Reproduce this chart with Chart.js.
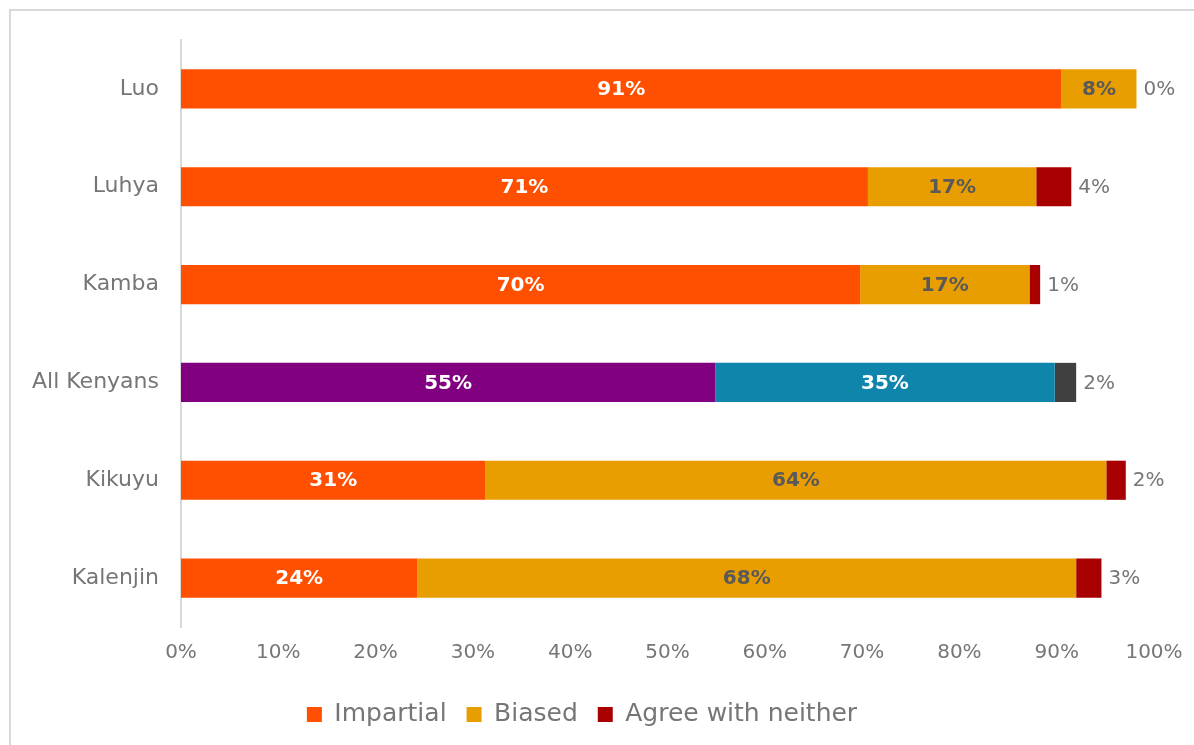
<!DOCTYPE html>
<html>
<head>
<meta charset="utf-8">
<script src="https://cdn.jsdelivr.net/npm/chart.js@4"></script>
<style>
  html, body { margin: 0; padding: 0; background: #fff; overflow: hidden; }
  #wrap { width: 1194px; height: 745px; position: relative; }
</style>
</head>
<body>
<div id="wrap"><canvas id="c" width="1194" height="745"></canvas></div>
<script>
const categories = ['Luo', 'Luhya', 'Kamba', 'All Kenyans', 'Kikuyu', 'Kalenjin'];
const impartial = [90.5, 70.6, 69.8, 54.9, 31.3, 24.3];
const biased = [7.7, 17.3, 17.4, 34.9, 63.8, 67.7];
const neither = [0, 3.6, 1.1, 2.2, 2.0, 2.6];
const seriesNames = ['Impartial', 'Biased', 'Agree with neither'];
const xTicks = [0, 10, 20, 30, 40, 50, 60, 70, 80, 90, 100];

const FONT = "'DejaVu Sans', sans-serif";
const GREY = '#767676';
const highlight = 'All Kenyans';

const baseColors = ['#FE5000', '#E89D00', '#A80000'];
const hiColors = ['#800080', '#1085AC', '#404040'];
function colorsFor(i) {
  return categories.map(c => c === highlight ? hiColors[i] : baseColors[i]);
}

const frame = {
  id: 'frame',
  beforeDraw(chart) {
    const ctx = chart.ctx;
    ctx.save();
    ctx.fillStyle = '#d9d9d9';
    ctx.fillRect(9, 9, 2, 745);
    ctx.fillRect(9, 9, 1194, 2);
    ctx.restore();
  }
};

const labelsPlugin = {
  id: 'valueLabels',
  afterDatasetsDraw(chart) {
    const ctx = chart.ctx;
    ctx.save();
    ctx.textBaseline = 'middle';
    chart.data.datasets.forEach((ds, di) => {
      const meta = chart.getDatasetMeta(di);
      meta.data.forEach((el, i) => {
        const v = ds.data[i];
        const txt = Math.round(v) + '%';
        const isHi = categories[i] === highlight;
        if (di === 2) {
          ctx.font = '20px ' + FONT;
          ctx.fillStyle = GREY;
          ctx.textAlign = 'left';
          ctx.fillText(txt, el.x + 7, el.y + 1);
        } else {
          ctx.font = 'bold 20px ' + FONT;
          ctx.fillStyle = (di === 0 || isHi) ? '#ffffff' : '#595959';
          ctx.textAlign = 'center';
          ctx.fillText(txt, (el.x + el.base) / 2, el.y + 1);
        }
      });
    });
    ctx.restore();
  }
};

const datasets = [impartial, biased, neither].map((d, i) => ({
  label: seriesNames[i],
  data: d,
  backgroundColor: colorsFor(i),
  borderWidth: 0,
  categoryPercentage: 1.0,
  barPercentage: 0.4
}));

new Chart(document.getElementById('c'), {
  type: 'bar',
  data: { labels: categories, datasets },
  plugins: [frame, labelsPlugin],
  options: {
    indexAxis: 'y',
    responsive: false,
    animation: false,
    layout: { padding: { left: 10, right: 40, top: 40, bottom: 8 } },
    scales: {
      x: {
        stacked: true,
        min: 0, max: 100,
        afterBuildTicks(scale) { scale.ticks = xTicks.map(v => ({ value: v })); },
        afterFit(scale) { scale.height = 55; scale.paddingLeft = 0; scale.paddingRight = 0; },
        grid: { display: false, drawTicks: false },
        border: { display: false },
        ticks: {
          padding: 14,
          color: GREY,
          font: { family: FONT, size: 20 },
          callback: v => v + '%'
        }
      },
      y: {
        stacked: true,
        afterFit(scale) { scale.width = 171; },
        grid: { display: false, drawTicks: false },
        border: { display: true, color: '#d9d9d9', width: 2 },
        ticks: {
          padding: 22,
          color: GREY,
          font: { family: FONT, size: 22 }
        }
      }
    },
    plugins: {
      legend: {
        position: 'bottom',
        labels: {
          color: GREY,
          font: { family: FONT, size: 25 },
          boxWidth: 15,
          boxHeight: 15,
          padding: 20,
          generateLabels(chart) {
            return chart.data.datasets.map((ds, i) => ({
              text: ds.label,
              fillStyle: baseColors[i],
              strokeStyle: baseColors[i],
              lineWidth: 0,
              fontColor: GREY,
              datasetIndex: i,
              hidden: false
            }));
          }
        }
      },
      tooltip: { enabled: false }
    }
  }
});
</script>
</body>
</html>
